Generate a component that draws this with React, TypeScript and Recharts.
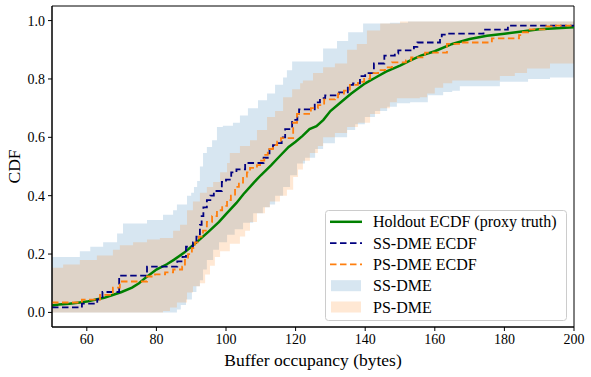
import React from "react";
import { Area, ComposedChart, Line, ReferenceArea, XAxis, YAxis } from "recharts";

// Holdout ECDF (proxy truth)
const holdoutX = [50, 52, 55, 58, 60, 63, 65, 67, 70, 73, 75, 77, 80, 83, 85, 88, 90, 92, 95, 98, 100, 103, 105, 108, 110, 113, 115, 118, 120, 122, 124, 126, 128, 130, 133, 136, 140, 143, 146, 150, 153, 156, 160, 165, 170, 175, 180, 185, 190, 195, 200];
const holdoutY = [0.024, 0.027, 0.03, 0.034, 0.037, 0.045, 0.05, 0.058, 0.07, 0.085, 0.1, 0.12, 0.147, 0.165, 0.18, 0.205, 0.225, 0.245, 0.277, 0.31, 0.337, 0.375, 0.405, 0.445, 0.47, 0.505, 0.53, 0.567, 0.585, 0.605, 0.628, 0.638, 0.66, 0.69, 0.72, 0.75, 0.785, 0.805, 0.825, 0.846, 0.864, 0.88, 0.895, 0.92, 0.937, 0.948, 0.955, 0.963, 0.97, 0.974, 0.977];

// SS-DME ECDF
const ssX = [50, 58.6, 63, 64.5, 69.3, 77.3, 86, 87.5, 88.5, 90.5, 91.5, 92.5, 93, 93.5, 94.5, 95.5, 96.5, 98.8, 100, 101.5, 103, 105.5, 110.8, 112, 112.5, 113.5, 115, 116, 117, 119, 120.5, 121, 125.5, 127, 128.5, 132.5, 135, 136.5, 138.5, 140, 142.5, 145.5, 148.5, 149.5, 154, 155, 161.5, 162, 163.5, 174, 181, 200];
const ssY = [0.017, 0.03, 0.045, 0.07, 0.126, 0.157, 0.175, 0.19, 0.225, 0.24, 0.26, 0.3, 0.33, 0.36, 0.385, 0.4, 0.416, 0.447, 0.455, 0.48, 0.49, 0.512, 0.53, 0.545, 0.563, 0.573, 0.58, 0.6, 0.628, 0.66, 0.675, 0.696, 0.72, 0.734, 0.744, 0.754, 0.78, 0.785, 0.81, 0.82, 0.853, 0.88, 0.887, 0.898, 0.91, 0.925, 0.94, 0.952, 0.955, 0.969, 0.983, 0.983];

// PS-DME ECDF
const psX = [50, 58.6, 63.8, 67.5, 69.5, 77.3, 79.6, 82.5, 84.8, 87.4, 88.2, 89.1, 90.2, 91.1, 92.2, 93.4, 94.5, 96, 97.4, 98.9, 100.3, 101.4, 102.6, 103.7, 104.9, 106, 106.9, 108.9, 109.8, 111, 112, 113.5, 114.7, 115.8, 119.3, 120.4, 124.4, 126.4, 128.2, 131.3, 132.2, 133.9, 135.6, 137.9, 139.7, 141.4, 143.7, 145.7, 147.7, 151.7, 153.2, 157.2, 163.5, 167.5, 176.4, 184.2, 185.3, 186.8, 192, 194.8, 200];
const psY = [0.034, 0.044, 0.06, 0.085, 0.106, 0.123, 0.13, 0.137, 0.147, 0.157, 0.18, 0.2, 0.22, 0.24, 0.26, 0.28, 0.31, 0.33, 0.35, 0.365, 0.385, 0.4, 0.43, 0.445, 0.465, 0.48, 0.495, 0.505, 0.52, 0.54, 0.56, 0.573, 0.585, 0.597, 0.65, 0.68, 0.7, 0.71, 0.73, 0.737, 0.75, 0.76, 0.78, 0.79, 0.8, 0.82, 0.83, 0.84, 0.857, 0.864, 0.874, 0.89, 0.92, 0.925, 0.939, 0.95, 0.96, 0.97, 0.98, 0.983, 0.983];

// SS-DME band bounds
const ssUpperX = [50, 58, 61, 64.7, 68.7, 70.4, 77.3, 81.9, 84.8, 85.9, 88.8, 90, 90.8, 91.7, 92.5, 93.4, 94.5, 96, 97.4, 99.1, 102, 104, 106.3, 109.2, 111.8, 114.1, 116.4, 117.5, 119, 127.9, 131.9, 135.1, 139.4, 147.1, 152.3, 200];
const ssUpperY = [0.19, 0.21, 0.225, 0.24, 0.27, 0.305, 0.317, 0.335, 0.35, 0.37, 0.4, 0.41, 0.43, 0.45, 0.5, 0.546, 0.567, 0.59, 0.635, 0.64, 0.65, 0.675, 0.7, 0.727, 0.75, 0.78, 0.805, 0.83, 0.86, 0.904, 0.93, 0.96, 0.99, 0.993, 0.997, 0.997];
const ssLowerX = [50, 85.9, 87, 88.5, 90.2, 91.5, 92.5, 93.4, 94.5, 96.3, 98, 100.3, 102.5, 104.9, 107.8, 110.6, 112.6, 114.1, 116.4, 118.4, 120.4, 122.7, 125.6, 127.9, 131.3, 134.8, 137.1, 139.9, 142.8, 146.3, 149.1, 152.9, 158, 162.4, 165, 167.2, 178.7, 186.8, 193.1, 200];
const ssLowerY = [0, 0.01, 0.025, 0.044, 0.07, 0.09, 0.11, 0.147, 0.18, 0.215, 0.24, 0.266, 0.285, 0.307, 0.34, 0.36, 0.37, 0.4, 0.43, 0.47, 0.51, 0.53, 0.56, 0.58, 0.6, 0.625, 0.645, 0.67, 0.69, 0.705, 0.717, 0.72, 0.744, 0.755, 0.76, 0.775, 0.79, 0.8, 0.805, 0.805];

// PS-DME band bounds
const psUpperX = [50, 53.2, 58, 62.9, 67.5, 69.5, 73.3, 77.3, 81, 84.8, 86.8, 88.8, 90.5, 92.5, 94.5, 96.3, 98.3, 100.3, 101.1, 104, 106.9, 108.9, 111.8, 114.1, 116.4, 119, 121.3, 122.1, 125, 127.9, 131.3, 134.8, 137.6, 140.5, 144.3, 150, 200];
const psUpperY = [0.153, 0.164, 0.18, 0.195, 0.215, 0.23, 0.24, 0.25, 0.255, 0.28, 0.3, 0.35, 0.38, 0.41, 0.43, 0.447, 0.48, 0.512, 0.546, 0.57, 0.59, 0.625, 0.67, 0.69, 0.737, 0.765, 0.785, 0.795, 0.82, 0.84, 0.853, 0.9, 0.92, 0.966, 0.99, 0.997, 0.997];
const psLowerX = [50, 81.9, 83.9, 85.9, 88.8, 90.5, 92.5, 94, 95.4, 96.8, 98.3, 101.1, 104, 105.5, 106.9, 108.9, 111.2, 112.6, 115.5, 117.5, 119.3, 120.7, 122.1, 124.1, 126.4, 127.9, 131.3, 134.8, 137.9, 141.4, 144.3, 147.1, 149.1, 155.7, 157.8, 160, 162.4, 165, 178.7, 183, 186.5, 193.1, 200];
const psLowerY = [0, 0.005, 0.017, 0.034, 0.068, 0.09, 0.1, 0.13, 0.16, 0.19, 0.21, 0.235, 0.26, 0.28, 0.31, 0.34, 0.36, 0.38, 0.4, 0.42, 0.464, 0.49, 0.52, 0.546, 0.57, 0.6, 0.615, 0.635, 0.65, 0.68, 0.7, 0.72, 0.734, 0.737, 0.75, 0.77, 0.785, 0.795, 0.81, 0.82, 0.836, 0.853, 0.853];

const xTicks = [60, 80, 100, 120, 140, 160, 180, 200];
const yTicks = [0, 0.2, 0.4, 0.6, 0.8, 1.0];

const FONT = "'Liberation Serif', 'Times New Roman', serif";

const toRows = (xs: number[], ys: number[]) => xs.map((x, i) => ({ x, y: ys[i] }));

// value of a step function (right-continuous) at x
const stepAt = (xs: number[], ys: number[], x: number) => {
  let v = ys[0];
  for (let i = 0; i < xs.length; i++) {
    if (xs[i] <= x) v = ys[i];
    else break;
  }
  return v;
};

const toBand = (loX: number[], loY: number[], hiX: number[], hiY: number[]) => {
  const xs = Array.from(new Set([...loX, ...hiX])).sort((a, b) => a - b);
  return xs.map((x) => ({ x, band: [stepAt(loX, loY, x), stepAt(hiX, hiY, x)] }));
};

const holdoutData = toRows(holdoutX, holdoutY);
const ssData = toRows(ssX, ssY);
const psData = toRows(psX, psY);
const ssBand = toBand(ssLowerX, ssLowerY, ssUpperX, ssUpperY);
const psBand = toBand(psLowerX, psLowerY, psUpperX, psUpperY);

const tickStyle = { fill: "#000", fontSize: 14, fontFamily: FONT };

function LegendBox() {
  const left = 325.5;
  const top = 210.5;
  const rows = [
    { label: "Holdout ECDF (proxy truth)", kind: "line", color: "#008000", dash: undefined, width: 2.5 },
    { label: "SS-DME ECDF", kind: "line", color: "#000080", dash: "6.5 3.5", width: 1.8 },
    { label: "PS-DME ECDF", kind: "line", color: "#ff7f0e", dash: "6.5 3.5", width: 1.8 },
    { label: "SS-DME", kind: "patch", color: "#1f77b4" },
    { label: "PS-DME", kind: "patch", color: "#ff7f0e" },
  ];
  return (
    <g>
      <rect x={left} y={top} width={241} height={110} rx={3} fill="#fff" fillOpacity={0.8} stroke="#cccccc" />
      {rows.map((r, i) => {
        const cy = 221.8 + i * 21.3;
        return (
          <g key={r.label}>
            {r.kind === "line" ? (
              <line x1={330} x2={362} y1={cy} y2={cy} stroke={r.color} strokeWidth={r.width} strokeDasharray={r.dash} />
            ) : (
              <rect x={331} y={cy - 5.5} width={30} height={11} fill={r.color} fillOpacity={0.18} />
            )}
            <text x={373} y={cy + 5.5} fontSize={16} fontFamily={FONT} fill="#000">
              {r.label}
            </text>
          </g>
        );
      })}
    </g>
  );
}

export default function App() {
  return (
    <div style={{ position: "absolute", left: 0, top: 0, width: 591, height: 377, background: "#fff" }}>
      <ComposedChart width={591} height={377} margin={{ top: 6, right: 17, bottom: 0, left: 0 }}>
        <XAxis
          dataKey="x"
          type="number"
          domain={[50, 200]}
          allowDataOverflow
          ticks={xTicks}
          height={50}
          tick={tickStyle}
          tickSize={4}
          tickMargin={3}
          axisLine={{ stroke: "#000" }}
          tickLine={{ stroke: "#000" }}
        />
        <YAxis
          type="number"
          domain={[-0.05, 1.05]}
          allowDataOverflow
          ticks={yTicks}
          width={52}
          tick={tickStyle}
          tickSize={4}
          tickMargin={3}
          tickFormatter={(v: number) => v.toFixed(1)}
          axisLine={{ stroke: "#000" }}
          tickLine={{ stroke: "#000" }}
        />
        <Area
          data={ssBand}
          dataKey="band"
          type="stepAfter"
          fill="#1f77b4"
          fillOpacity={0.18}
          stroke="none"
          isAnimationActive={false}
        />
        <Area
          data={psBand}
          dataKey="band"
          type="stepAfter"
          fill="#ff7f0e"
          fillOpacity={0.18}
          stroke="none"
          isAnimationActive={false}
        />
        <Line
          data={holdoutData}
          dataKey="y"
          type="linear"
          stroke="#008000"
          strokeWidth={2.5}
          dot={false}
          isAnimationActive={false}
        />
        <Line
          data={ssData}
          dataKey="y"
          type="stepAfter"
          stroke="#000080"
          strokeWidth={1.8}
          strokeDasharray="6.5 3.5"
          dot={false}
          isAnimationActive={false}
        />
        <Line
          data={psData}
          dataKey="y"
          type="stepAfter"
          stroke="#ff7f0e"
          strokeWidth={1.8}
          strokeDasharray="6.5 3.5"
          dot={false}
          isAnimationActive={false}
        />
        <ReferenceArea x1={50} x2={200} y1={-0.05} y2={1.05} fill="none" stroke="#000" strokeWidth={1} />
      </ComposedChart>
      <svg width={591} height={377} style={{ position: "absolute", left: 0, top: 0, pointerEvents: "none" }}>
        <text x={313} y={366} textAnchor="middle" fontSize={17.5} fontFamily={FONT} fill="#000">
          Buffer occupancy (bytes)
        </text>
        <text
          x={20}
          y={166.5}
          textAnchor="middle"
          fontSize={17.5}
          fontFamily={FONT}
          fill="#000"
          transform="rotate(-90 20 166.5)"
        >
          CDF
        </text>
        <LegendBox />
      </svg>
    </div>
  );
}
